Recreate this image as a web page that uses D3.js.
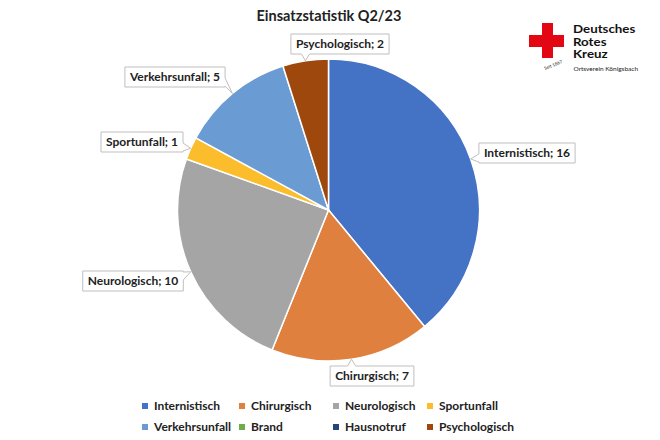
<!DOCTYPE html>
<html><head><meta charset="utf-8">
<script src="https://cdn.jsdelivr.net/npm/d3@7"></script>
<style>body{margin:0;background:#fff}svg{display:block}text{font-family:Lato,"Open Sans",sans-serif}</style>
</head><body><svg id="c" width="660" height="440"></svg>
<script>
const title = "Einsatzstatistik Q2/23";
const categories = ["Internistisch","Chirurgisch","Neurologisch","Sportunfall","Verkehrsunfall","Brand","Hausnotruf","Psychologisch"];
const values = [16,7,10,1,5,0,0,2];
const colors = ["#4472C4","#E0803F","#A5A5A5","#FBBD2C","#6A9BD3","#70AD47","#264478","#9E480E"];
const logoLines = ["Deutsches","Rotes","Kreuz"];
const logoSub = "Ortsverein Königsbach";
const logoSince = "Seit 1867";
// label box centres (layout only)
const labelPos = {Internistisch:[527,153],Chirurgisch:[372,376],Neurologisch:[133,281],Sportunfall:[142,142],Verkehrsunfall:[175,77],Psychologisch:[340,44]};

const svg = d3.select("#c");
const cx = 328.5, cy = 210, R = 151;
const data = categories.map((c,i)=>({cat:c,value:values[i],color:colors[i]}));
const pie = d3.pie().value(d=>d.value).sort(null);
const arcs = pie(data);
const arc = d3.arc().innerRadius(0).outerRadius(R);
const g = svg.append("g").attr("transform",`translate(${cx},${cy})`);
g.selectAll("path").data(arcs.filter(a=>a.data.value>0)).join("path")
  .attr("d",arc).attr("fill",d=>d.data.color).attr("stroke","#fff").attr("stroke-width",1.5);

svg.append("text").attr("x",329).attr("y",21).attr("text-anchor","middle")
  .attr("font-size",14.5).attr("font-weight","bold").attr("fill","#222").text(title);

// labels
arcs.filter(a=>a.data.value>0).forEach(a=>{
  const mid=(a.startAngle+a.endAngle)/2;
  const tip=[cx+R*Math.sin(mid), cy-R*Math.cos(mid)];
  const [lx,ly]=labelPos[a.data.cat];
  const t=svg.append("text").attr("x",lx).attr("y",ly+4.3).attr("text-anchor","middle")
    .attr("font-size",12).attr("font-weight","bold").attr("fill","#222").text(a.data.cat+"; "+a.data.value);
  const w=t.node().getComputedTextLength()+10, h=20;
  const x0=lx-w/2,x1=lx+w/2,y0=ly-h/2,y1=ly+h/2;
  const dx=tip[0]<x0?x0-tip[0]:(tip[0]>x1?tip[0]-x1:0);
  const dy=tip[1]<y0?y0-tip[1]:(tip[1]>y1?tip[1]-y1:0);
  let path;
  const hw=4;
  if(dx>=dy){
    const by=Math.min(Math.max(tip[1],y0+hw+1),y1-hw-1);
    if(tip[0]<x0) path=`M${x0},${y0}H${x1}V${y1}H${x0}V${by+hw}L${tip[0]},${tip[1]}L${x0},${by-hw}Z`;
    else path=`M${x0},${y0}H${x1}V${by-hw}L${tip[0]},${tip[1]}L${x1},${by+hw}V${y1}H${x0}Z`;
  } else {
    const bx=Math.min(Math.max(tip[0],x0+hw+1),x1-hw-1);
    if(tip[1]<y0) path=`M${x0},${y0}H${bx-hw}L${tip[0]},${tip[1]}L${bx+hw},${y0}H${x1}V${y1}H${x0}Z`;
    else path=`M${x0},${y0}H${x1}V${y1}H${bx+hw}L${tip[0]},${tip[1]}L${bx-hw},${y1}H${x0}Z`;
  }
  svg.append("path").attr("d",path).attr("fill","#fff").attr("stroke","#BFBFBF").attr("stroke-width",1);
  t.raise();
});

// legend
const legX=[145,242,336,430], legY=[406,427];
data.forEach((d,i)=>{
  const x=legX[i%4], y=legY[Math.floor(i/4)];
  svg.append("rect").attr("x",x-3).attr("y",y-3).attr("width",6).attr("height",6).attr("fill",d.color);
  svg.append("text").attr("x",x+9).attr("y",y+4.3).attr("font-size",12).attr("font-weight","bold").attr("fill","#222").text(d.cat);
});

// logo
const lg=svg.append("g");
lg.append("path").attr("d","M542,23H553V35H564V47H553V58H542V47H529V35H542Z").attr("fill","#E30613");
logoLines.forEach((s,i)=>lg.append("text").attr("transform",`translate(573,${33+i*12.5}) scale(1.2,1)`)
  .attr("font-family","Liberation Sans, Arial, sans-serif")
  .attr("font-size",11.1).attr("font-weight","bold").attr("fill","#111").text(s));
lg.append("text").attr("x",573.5).attr("y",71).attr("font-family","Liberation Sans, Arial, sans-serif").attr("font-size",6.5).attr("fill","#222").text(logoSub);
lg.append("text").attr("transform","translate(545,70) rotate(-22)").attr("font-family","Liberation Sans, Arial, sans-serif").attr("font-size",4.5).attr("fill","#222").text(logoSince);
</script></body></html>
